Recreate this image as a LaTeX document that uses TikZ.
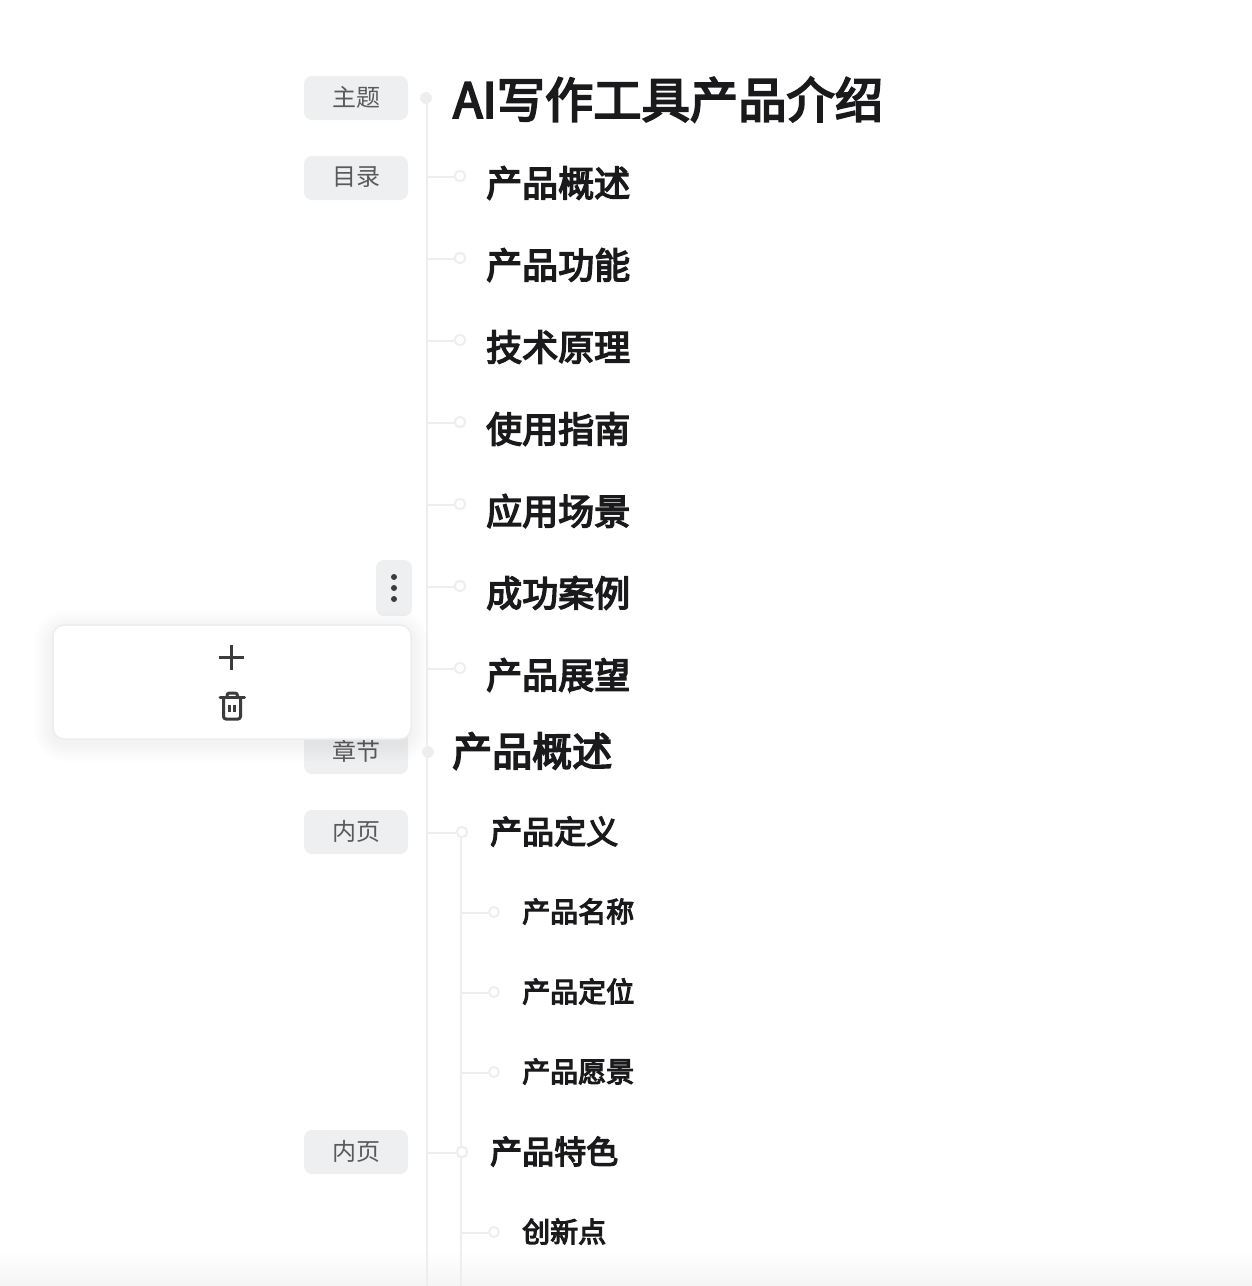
\documentclass[tikz,border=0pt]{standalone}
\usepackage{fontspec}
\setmainfont{Noto Sans CJK SC}
\newfontfamily\headfont[FakeBold=4]{Noto Sans CJK SC}
\definecolor{linegray}{HTML}{EEEEF0}
\definecolor{taggray}{HTML}{EEEFF1}
\definecolor{tagtext}{HTML}{5A5A5C}
\definecolor{inktext}{HTML}{1A1A1C}
\definecolor{icongray}{HTML}{3C3C3E}
\newcommand{\tagstr}[1]{\raisebox{3pt}{#1}}
\tikzset{
	tag/.style={fill=taggray,rounded corners=8pt,minimum width=104pt,minimum height=44pt,inner sep=0pt,text=tagtext,font=\fontsize{24}{24}\selectfont},
	ring/.style={circle,draw=linegray,line width=2pt,fill=white,inner sep=0pt,minimum size=#1},
	blob/.style={circle,fill=linegray,inner sep=0pt,minimum size=12pt},
	conn/.style={draw=linegray,line width=2pt},
	title/.style={anchor=west,inner sep=0pt,text=inktext,font=\fontsize{#1}{#1}\selectfont\headfont},
}
\begin{document}
\begin{tikzpicture}[x=1pt,y=-1pt]
	\useasboundingbox (0,0) rectangle (1252,1286);
	\shade[top color=white,bottom color=black!4] (0,1250) rectangle (1252,1286);
	% main stems
	\coordinate (end1) at (427,1286); \coordinate (end2) at (461,1286);
	\node[blob] (topic) at (426,98) {};
	\node[blob] (chapter) at (428,752) {};
	\draw[conn] (427,98) -- (end1);
	% tags on the left
	\node[tag] (tagtopic) at (356,98) {\tagstr{主题}};
	\node[tag] (tagtoc) at (356,178) {\tagstr{目录}};
	\node[tag] (tagchapter) at (356,752) {\tagstr{章节}};
	\node[tag] (tagpageA) at (356,832) {\tagstr{内页}};
	\node[tag] (tagpageB) at (356,1152) {\tagstr{内页}};
	% headings
	\node[title=48.3] (tname) at (453,99.5) {AI写作工具产品介绍};
	\node[title=40] (cname) at (452,751) {产品概述};
	% contents entries
	\foreach \i/\y/\t in {1/176/产品概述,2/258/产品功能,3/340/技术原理,4/422/使用指南,5/504/应用场景,6/586/成功案例,7/668/产品展望}{
		\coordinate (s\i) at (427,\y+1);
		\node[ring=10.5pt] (d\i) at (460,\y) {};
		\draw[conn] (s\i) -- (s\i -| d\i.west);
		\node[title=36] (n\i) at (486,\y+7) {\t};
	}
	% inner pages
	\foreach \i/\y/\t in {A/832/产品定义,B/1152/产品特色}{
		\coordinate (s\i) at (427,\y+1);
		\node[ring=10.5pt] (d\i) at (462,\y) {};
		\draw[conn] (s\i) -- (s\i -| d\i.west);
		\node[title=32] (n\i) at (490,\y-0.5) {\t};
	}
	\draw[conn] (dA.south -| end2) -- (end2);
	\foreach \i/\y/\t in {a/912/产品名称,b/992/产品定位,c/1072/产品愿景,d/1232/创新点}{
		\coordinate (s\i) at (461,\y+1);
		\node[ring=10pt] (d\i) at (494,\y) {};
		\draw[conn] (s\i) -- (s\i -| d\i.west);
		\node[title=28] (n\i) at (522,\y-0.5) {\t};
	}
	\node[ring=10.5pt] at (dB) {};
	% menu button
	\node[fill=taggray,rounded corners=8pt,minimum width=36pt,minimum height=56pt,inner sep=0pt] (menubtn) at (394,588) {};
	\foreach \y in {577,588,599} \fill[icongray] (394,\y) circle (3pt);
	% popup
	\foreach \k in {18,15,...,3} \fill[black,opacity=0.007,rounded corners=12pt+\k pt] (53-\k,625-\k+4) rectangle (411+\k,739+\k+4);
	\node[fill=white,draw=black!7,line width=1.5pt,rounded corners=11pt,minimum width=358pt,minimum height=114pt,inner sep=0pt] (popup) at (232,682) {};
	\draw[icongray,line width=3pt] (231,645) -- (231,670) (218.5,657.5) -- (244,657.5);
	\draw[icongray,line width=3pt,rounded corners=2.5pt] (223.5,698) -- (223.5,719) -- (240.5,719) -- (240.5,698);
	\draw[icongray,line width=3pt,line cap=round] (220,697) -- (244.5,697);
	\draw[icongray,line width=3pt,rounded corners=2.5pt] (227,696) -- (227,693) -- (237.5,693) -- (237.5,696);
	\draw[icongray,line width=2.5pt] (229.5,705) -- (229.5,712) (234.5,705) -- (234.5,712);
\end{tikzpicture}
\end{document}
